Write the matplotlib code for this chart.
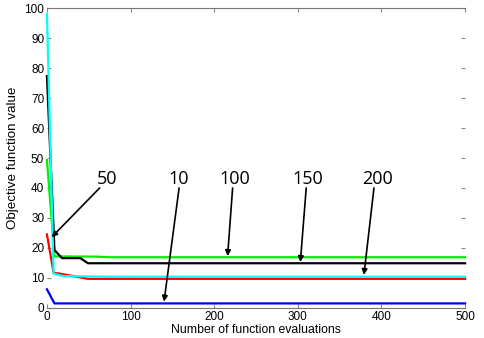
import matplotlib.pyplot as plt
import numpy as np

plt.rcParams['font.family'] = ['Liberation Sans', 'DejaVu Sans']

# convergence histories (objective value vs. number of function evaluations)
x_10 = [0, 9, 500]
y_10 = [6.2, 1.5, 1.5]

x_50 = [0, 8, 16, 49, 500]
y_50 = [24.5, 11.7, 11.4, 9.7, 9.7]

x_100 = [0, 9, 60, 75, 500]
y_100 = [49.3, 17.2, 17.1, 16.9, 16.9]

x_150 = [0, 9, 18, 40, 49, 500]
y_150 = [77.3, 19.3, 16.6, 16.6, 14.9, 14.9]

x_200 = [0, 8, 20, 80, 500]
y_200 = [98.0, 11.4, 10.6, 10.4, 10.4]

# annotation labels: text position and arrow tip (data coords)
labels = ['50', '10', '100', '150', '200']
text_x = [72, 158, 224, 312, 395]
tip_x = [5.6, 140, 216, 303, 379]
tip_y = [23.6, 2.1, 17.3, 15.3, 11.0]
text_y = 43
arrow_start_x = [63, 158, 222, 310, 391]
arrow_start_y = 40

fig = plt.figure(figsize=(4.84, 3.38), dpi=100)
ax = fig.add_axes([0.097, 0.089, 0.864, 0.887])

ax.plot(x_10, y_10, color='#0000ff', lw=1.6, clip_on=False)
ax.plot(x_50, y_50, color='#ff0000', lw=1.6, clip_on=False)
ax.plot(x_100, y_100, color='#00ee00', lw=1.6, clip_on=False)
ax.plot(x_150, y_150, color='black', lw=1.6, clip_on=False)
ax.plot(x_200, y_200, color='#00ffff', lw=1.6, clip_on=False)

for lab, tx, xx, yy, sx in zip(labels, text_x, tip_x, tip_y, arrow_start_x):
    ax.annotate('', xy=(xx, yy), xytext=(sx, arrow_start_y),
                arrowprops=dict(arrowstyle='-|>', color='black', lw=1.2,
                                mutation_scale=8, shrinkA=0, shrinkB=0))
    ax.text(tx, text_y, lab, ha='center', va='center', fontsize=13,
            family='Open Sans')

ax.set_xlim(0, 500)
ax.set_ylim(0, 100)
ax.set_xticks(np.arange(0, 501, 100))
ax.set_yticks(np.arange(0, 101, 10))
ax.tick_params(direction='in', length=3, color='#888888', labelsize=8.5,
               top=True, right=True, pad=2)
for side in ['left', 'right']:
    ax.spines[side].set_visible(False)
for side in ['top', 'bottom']:
    ax.spines[side].set_color('#777777')
    ax.spines[side].set_linewidth(0.8)

ax.set_xlabel('Number of function evaluations', fontsize=8.8, labelpad=1)
ax.set_ylabel('Objective function value', fontsize=9.6, labelpad=4)

fig.savefig('out.png', dpi=100)
